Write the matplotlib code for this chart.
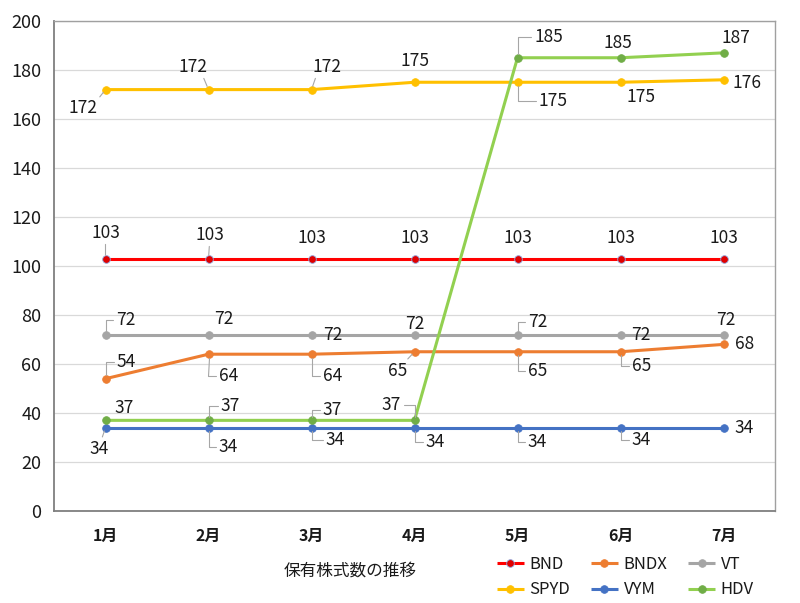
import matplotlib
matplotlib.use("Agg")
import matplotlib.pyplot as plt

plt.rcParams['font.family'] = ['Noto Sans CJK JP', 'DejaVu Sans']

months = ["1月", "2月", "3月", "4月", "5月", "6月", "7月"]
series_names = ["BND", "BNDX", "VT", "SPYD", "VYM", "HDV"]
bnd = [103, 103, 103, 103, 103, 103, 103]
bndx = [54, 64, 64, 65, 65, 65, 68]
vt = [72, 72, 72, 72, 72, 72, 72]
spyd = [172, 172, 172, 175, 175, 175, 176]
vym = [34, 34, 34, 34, 34, 34, 34]
hdv = [37, 37, 37, 37, 185, 185, 187]
y_ticks = [0, 20, 40, 60, 80, 100, 120, 140, 160, 180, 200]
x_title = "保有株式数の推移"

values = {"BND": bnd, "BNDX": bndx, "VT": vt, "SPYD": spyd, "VYM": vym, "HDV": hdv}

# styles
line_colors = {"BND": "#FF0000", "BNDX": "#ED7D31", "VT": "#A5A5A5",
               "SPYD": "#FFC000", "VYM": "#4472C4", "HDV": "#92D050"}
marker_colors = {"BND": "#E00000", "BNDX": "#ED7D31", "VT": "#A5A5A5",
                 "SPYD": "#FFC000", "VYM": "#4472C4", "HDV": "#70AD47"}
edge_colors = {"BND": "#8FA8E0", "BNDX": "#ED7D31", "VT": "#A5A5A5",
               "SPYD": "#FFC000", "VYM": "#4472C4", "HDV": "#70AD47"}

# label offsets in pixels (dx, dy up) and leader type: n none, s straight, b bracket
label_layout = {
    "SPYD": [(-23, -18, 's', (1, 0.9)), (-16, 23, 's', (0.85, 0)), (15, 23, 's', (0.15, 0)),
             (0, 21, 'n', None), (36, -19, 'b', (0, 0.5)), (20, -15, 'n', None),
             (23, -3, 'n', None)],
    "HDV": [(19, 12, 'n', None), (22, 14, 'b', (0, 0.5)), (21, 10, 'b', (0, 0.5)),
            (-23, 15, 'b', (1, 0.5)), (31, 21, 'b', (0, 0.5)), (-3, 15, 'n', None),
            (12, 15, 'n', None)],
    "BND": [(0, 26, 's', (0.5, 0)), (1, 24, 's', (0.5, 0)), (0, 21, 'n', None),
            (0, 21, 'n', None), (0, 21, 'n', None), (0, 21, 'n', None),
            (0, 21, 'n', None)],
    "VT": [(20, 15, 'b', (0, 0.5)), (15, 16, 'n', None), (21, 0, 'n', None),
           (0, 11, 'n', None), (20, 13, 'b', (0, 0.5)), (20, 0, 'n', None),
           (2, 15, 'n', None)],
    "BNDX": [(21, 17, 'b', (0, 0.5)), (20, -22, 'b', (0, 0.5)), (21, -22, 'b', (0, 0.5)),
             (-17, -19, 's', (0.9, 1)), (20, -19, 'b', (0, 0.5)), (21, -14, 'b', (0, 0.5)),
             (21, 0, 'n', None)],
    "VYM": [(-6, -21, 's', (0.6, 1)), (20, -19, 'b', (0, 0.5)), (24, -12, 'b', (0, 0.5)),
            (21, -14, 'b', (0, 0.5)), (20, -14, 'b', (0, 0.5)), (21, -12, 'b', (0, 0.5)),
            (21, 0, 'n', None)],
}

fig = plt.figure(figsize=(8.0, 6.03), dpi=100)
ax = fig.add_axes([54 / 800, 1 - 511 / 603, (775 - 54) / 800, (511 - 21) / 603])

x = list(range(1, len(months) + 1))
handles = {}
for name in series_names:
    h, = ax.plot(x, values[name], color=line_colors[name], lw=2.2,
                 marker='o', ms=5.5, mfc=marker_colors[name],
                 mec=edge_colors[name], mew=0.6, zorder=3, label=name,
                 solid_capstyle='butt')
    handles[name] = h

lead_color = "#A6A6A6"
for name in series_names:
    for i, v in enumerate(values[name]):
        dx, dy, kind, rel = label_layout[name][i]
        kw = dict(xy=(x[i], v), xytext=(dx, dy), textcoords='offset pixels',
                  ha='center', va='center', fontsize=12.5, color='#1A1A1A', zorder=5)
        if kind == 's':
            kw['arrowprops'] = dict(arrowstyle='-', color=lead_color, lw=0.8,
                                    shrinkA=0, shrinkB=2.5, relpos=rel)
        elif kind == 'b':
            kw['arrowprops'] = dict(arrowstyle='-', color=lead_color, lw=0.8,
                                    shrinkA=0, shrinkB=2.5, relpos=rel,
                                    connectionstyle="angle,angleA=0,angleB=90,rad=0")
        ax.annotate(str(v), **kw)

ax.set_xlim(0.5, len(months) + 0.5)
ax.set_ylim(0, 200)
ax.set_yticks(y_ticks)
ax.set_xticks(x)
ax.set_xticklabels(months, fontsize=11.5, fontweight='semibold', color='#1A1A1A')
ax.tick_params(axis='y', labelsize=13, colors='#1A1A1A', length=0, pad=9)
ax.tick_params(axis='x', length=0, pad=12)
ax.grid(axis='y', color='#D9D9D9', lw=0.9)
ax.set_axisbelow(True)
for s in ['left', 'bottom']:
    ax.spines[s].set_color('#7F7F7F')
    ax.spines[s].set_linewidth(1.3)
for s in ['top', 'right']:
    ax.spines[s].set_color('#A0A0A0')
    ax.spines[s].set_linewidth(1.0)

fig.text(284 / 800, 1 - 571 / 603, x_title, fontsize=12, color='#1A1A1A',
         ha='left', va='center')

order = ["BND", "SPYD", "BNDX", "VYM", "VT", "HDV"]
leg = fig.legend([handles[n] for n in order], order, ncol=3,
                 loc='upper left', bbox_to_anchor=(497 / 800, 1 - 556 / 603),
                 frameon=False, fontsize=12, handlelength=1.6, handletextpad=0.35,
                 columnspacing=1.25, labelspacing=0.5, borderaxespad=0, borderpad=0)
for t in leg.get_texts():
    t.set_color('#1A1A1A')

fig.savefig("out.png", dpi=100)
